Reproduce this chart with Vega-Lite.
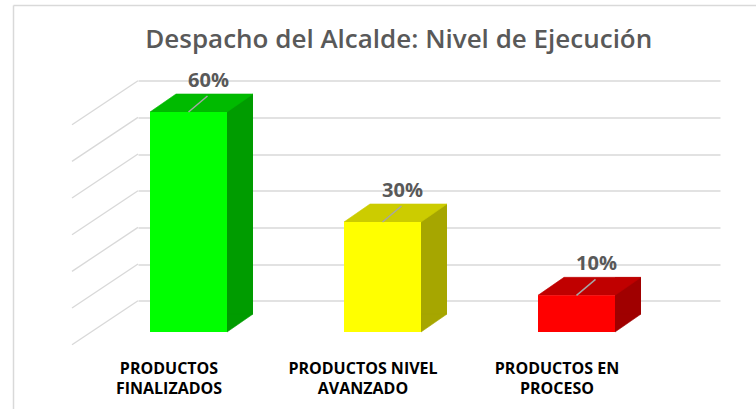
{
  "$schema": "https://vega.github.io/schema/vega-lite/v6.json",
  "width": 742.5,
  "height": 403.5,
  "autosize": "none",
  "padding": {"left": 13.5, "top": 5.5, "right": 0, "bottom": 0},
  "background": "white",
  "config": {
    "view": {"stroke": "#D9D9D9", "strokeWidth": 1.5, "strokeDash": [742.5, 1146, 403.5, 0]}
  },
  "title": {
    "text": "Despacho del Alcalde: Nivel de Ejecución",
    "font": "Open Sans",
    "fontSize": 26,
    "fontWeight": 600,
    "color": "#595959",
    "anchor": "middle",
    "frame": "group",
    "offset": -47,
    "dx": 14
  },
  "resolve": {"axis": {"x": "independent", "y": "independent"}},
  "datasets": {
    "bars": [
      {"cat": "PRODUCTOS FINALIZADOS", "v": 0.6},
      {"cat": "PRODUCTOS NIVEL AVANZADO", "v": 0.3},
      {"cat": "PRODUCTOS EN PROCESO", "v": 0.1}
    ],
    "grid": [
      {"g": 0}, {"g": 0.1}, {"g": 0.2}, {"g": 0.3}, {"g": 0.4}, {"g": 0.5}, {"g": 0.6}
    ]
  },
  "layer": [
    {
      "data": {"name": "grid"},
      "mark": {"type": "rule", "color": "#D9D9D9", "strokeWidth": 1.3, "x2Offset": -66, "y2Offset": 44},
      "encoding": {
        "x": {"datum": "PRODUCTOS FINALIZADOS", "type": "nominal", "bandPosition": 0,
              "scale": {"domain": ["PRODUCTOS FINALIZADOS", "PRODUCTOS NIVEL AVANZADO", "PRODUCTOS EN PROCESO"], "range": [124.5, 706.5], "paddingInner": 0, "paddingOuter": 0},
              "axis": null},
        "x2": {"datum": "PRODUCTOS FINALIZADOS", "bandPosition": 0},
        "y": {"field": "g", "type": "quantitative", "scale": {"domain": [0, 0.6], "range": [295.2, 75.2]}, "axis": null},
        "y2": {"field": "g"}
      }
    },
    {
      "data": {"name": "bars"},
      "mark": {"type": "bar", "width": 26, "xOffset": 5, "yOffset": 13.3, "y2Offset": 13.3},
      "encoding": {
        "x": {"field": "cat", "type": "nominal", "sort": null, "axis": null},
        "y": {"field": "v", "type": "quantitative", "axis": null},
        "y2": {"datum": 0},
        "color": {"condition": [
          {"test": "datum.cat === 'PRODUCTOS FINALIZADOS'", "value": "#009C00"},
          {"test": "datum.cat === 'PRODUCTOS NIVEL AVANZADO'", "value": "#A6A600"}
        ], "value": "#A00000"}
      }
    },
    {
      "data": {"name": "bars"},
      "mark": {"type": "point", "shape": "M-8,13.3L-8,31.3L18,13.3Z", "size": 4, "filled": true, "opacity": 1, "strokeWidth": 0.6},
      "encoding": {
        "x": {"field": "cat", "type": "nominal", "sort": null, "axis": null},
        "y": {"datum": 0, "type": "quantitative", "axis": null},
        "fill": {"condition": [
          {"test": "datum.cat === 'PRODUCTOS FINALIZADOS'", "value": "#009C00"},
          {"test": "datum.cat === 'PRODUCTOS NIVEL AVANZADO'", "value": "#A6A600"}
        ], "value": "#A00000"},
        "stroke": {"condition": [
          {"test": "datum.cat === 'PRODUCTOS FINALIZADOS'", "value": "#009C00"},
          {"test": "datum.cat === 'PRODUCTOS NIVEL AVANZADO'", "value": "#A6A600"}
        ], "value": "#A00000"}
      }
    },
    {
      "data": {"name": "bars"},
      "mark": {"type": "point", "shape": "M-85,31.3L-8,31.3L18,13.3L-59,13.3Z", "size": 4, "filled": true, "opacity": 1, "strokeWidth": 0.6},
      "encoding": {
        "x": {"field": "cat", "type": "nominal", "sort": null, "axis": null},
        "y": {"field": "v", "type": "quantitative", "axis": null},
        "fill": {"condition": [
          {"test": "datum.cat === 'PRODUCTOS FINALIZADOS'", "value": "#00BA00"},
          {"test": "datum.cat === 'PRODUCTOS NIVEL AVANZADO'", "value": "#CCCC00"}
        ], "value": "#C00000"},
        "stroke": {"condition": [
          {"test": "datum.cat === 'PRODUCTOS FINALIZADOS'", "value": "#00BA00"},
          {"test": "datum.cat === 'PRODUCTOS NIVEL AVANZADO'", "value": "#CCCC00"}
        ], "value": "#C00000"}
      }
    },
    {
      "data": {"name": "bars"},
      "mark": {"type": "bar", "width": 77, "xOffset": -46.5, "yOffset": 31.3, "y2Offset": 31.3},
      "encoding": {
        "x": {"field": "cat", "type": "nominal", "sort": null,
              "axis": {"orient": "bottom", "offset": -108.3, "domain": false, "ticks": false, "grid": false, "title": null,
                       "labelFont": "Open Sans", "labelFontSize": 16, "labelFontWeight": "bold", "labelColor": "#000000",
                       "labelOffset": -66, "labelPadding": 60, "labelBaseline": "top", "labelLineHeight": 20, "labelAngle": 0, "labelLimit": 0,
                       "labelExpr": "datum.value == 'PRODUCTOS FINALIZADOS' ? ['PRODUCTOS', 'FINALIZADOS'] : datum.value == 'PRODUCTOS NIVEL AVANZADO' ? ['PRODUCTOS NIVEL', 'AVANZADO'] : ['PRODUCTOS EN', 'PROCESO']"}},
        "y": {"field": "v", "type": "quantitative",
              "axis": {"orient": "left", "grid": true, "gridColor": "#D9D9D9", "gridWidth": 1.3, "labels": false, "ticks": false, "domain": false, "title": null,
                       "values": [0, 0.1, 0.2, 0.3, 0.4, 0.5, 0.6]}},
        "y2": {"datum": 0},
        "color": {"condition": [
          {"test": "datum.cat === 'PRODUCTOS FINALIZADOS'", "value": "#00FF00"},
          {"test": "datum.cat === 'PRODUCTOS NIVEL AVANZADO'", "value": "#FFFF00"}
        ], "value": "#FF0000"}
      }
    },
    {
      "data": {"name": "bars"},
      "mark": {"type": "point", "shape": "M0,0L19,-16", "size": 4, "filled": false, "opacity": 1, "color": "#A6A6A6", "strokeWidth": 1.5, "xOffset": -46.5, "yOffset": 31.3},
      "encoding": {
        "x": {"field": "cat", "type": "nominal", "sort": null, "axis": null},
        "y": {"field": "v", "type": "quantitative", "axis": null}
      }
    },
    {
      "data": {"name": "bars"},
      "mark": {"type": "text", "font": "Open Sans", "fontSize": 20, "fontWeight": "bold", "color": "#595959", "baseline": "alphabetic", "align": "center", "dx": -26.5, "dy": 6.3},
      "encoding": {
        "x": {"field": "cat", "type": "nominal", "sort": null, "axis": null},
        "y": {"field": "v", "type": "quantitative", "axis": null},
        "text": {"field": "v", "type": "quantitative", "format": ".0%"}
      }
    }
  ]
}
